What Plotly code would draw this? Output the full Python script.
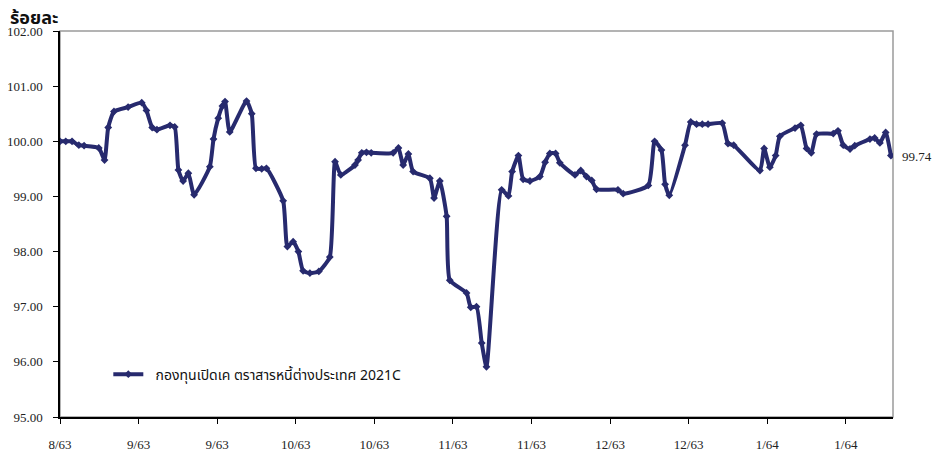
import plotly.graph_objects as go

# Day offset from 20 Aug 2020 and NAV per unit (%)
day = [0.0, 1.1, 2.3, 3.6, 4.6, 7.4, 8.5, 9.2, 10.3, 13.0, 15.6, 16.5, 17.6, 18.5,
       21.0, 21.9, 22.6, 23.5, 24.5, 25.6, 28.6, 29.3, 30.2, 31.0, 31.5, 32.4,
       35.6, 36.6, 37.4, 38.5, 39.4, 42.6, 43.4, 44.5, 45.5, 46.4, 47.7, 49.4,
       51.5, 52.5, 53.6, 56.3, 56.9, 57.6, 58.5, 59.4, 63.6, 64.6, 65.5, 66.5,
       67.4, 70.6, 71.4, 72.5, 73.8, 74.4, 77.6, 78.4, 79.5, 80.5, 81.4, 84.3,
       85.6, 86.3, 87.5, 88.4, 89.7, 91.6, 92.6, 93.5, 94.6, 95.4, 98.3, 99.4,
       100.5, 101.5, 102.4, 106.5, 107.5, 112.3, 113.5, 114.8, 115.5, 116.3,
       119.3, 120.4, 121.5, 122.6, 123.7, 126.4, 127.5, 128.6, 133.6, 134.4,
       135.5, 136.6, 137.4, 140.3, 141.4, 142.5, 143.4, 144.4, 147.6, 148.5,
       149.5, 150.8, 151.7, 154.6, 155.5, 156.5, 157.6, 158.6]
nav = [100.00, 100.00, 100.00, 99.93, 99.92, 99.88, 99.66, 100.25, 100.54, 100.62,
       100.70, 100.56, 100.25, 100.21, 100.29, 100.26, 99.48, 99.28, 99.42, 99.03,
       99.54, 100.04, 100.42, 100.64, 100.72, 100.17, 100.73, 100.50, 99.51, 99.50,
       99.51, 98.92, 98.09, 98.18, 98.00, 97.65, 97.61, 97.64, 97.90, 99.63, 99.39,
       99.57, 99.66, 99.79, 99.80, 99.79, 99.79, 99.88, 99.57, 99.77, 99.45, 99.33,
       98.97, 99.28, 98.64, 97.48, 97.25, 96.99, 97.00, 96.34, 95.91, 99.12, 99.01,
       99.45, 99.74, 99.31, 99.28, 99.36, 99.62, 99.78, 99.78, 99.61, 99.39, 99.47,
       99.36, 99.29, 99.13, 99.12, 99.05, 99.20, 100.00, 99.84, 99.22, 99.02, 99.93,
       100.35, 100.31, 100.31, 100.31, 100.33, 99.96, 99.93, 99.47, 99.87, 99.53,
       99.74, 100.09, 100.24, 100.29, 99.87, 99.79, 100.13, 100.14, 100.19, 99.93,
       99.86, 99.92, 100.04, 100.06, 99.97, 100.16, 99.74]

tick_days = [0, 15, 30, 45, 60, 75, 90, 105, 120, 135, 150]
tick_labels = ["8/63", "9/63", "9/63", "10/63", "10/63", "11/63", "11/63",
               "12/63", "12/63", "1/64", "1/64"]
y_ticks = [95, 96, 97, 98, 99, 100, 101, 102]
series_name = "กองทุนเปิดเค ตราสารหนี้ต่างประเทศ 2021C"

navy = "#272a6e"
serif = "Times New Roman, Liberation Serif, serif"
thai = "Noto Sans Thai, Loma, Tahoma, sans-serif"

fig = go.Figure()
fig.add_trace(go.Scatter(
    x=day, y=nav, mode="lines+markers", name="\u00a0\u00a0" + series_name,
    line=dict(color=navy, width=4, shape="spline", smoothing=0.5),
    marker=dict(symbol="diamond", size=6, color=navy),
))

fig.add_annotation(x=day[-1], y=nav[-1], text=f"{nav[-1]:.2f}", showarrow=False,
                   xanchor="left", xshift=9, yshift=-1,
                   font=dict(family=serif, size=13, color="#222"))
fig.add_annotation(xref="paper", yref="paper", x=-0.063, y=1.032, xanchor="left",
                   yanchor="middle", text="<b>ร้อยละ</b>", showarrow=False,
                   font=dict(family=thai, size=18, color="#111"))

fig.add_shape(type="rect", xref="paper", yref="paper", x0=0, y0=0, x1=1, y1=1,
              line=dict(color="#9a9a9a", width=1.5), layer="below")

fig.update_layout(
    width=937, height=448,
    margin=dict(l=52, r=52, t=23, b=39, autoexpand=False),
    plot_bgcolor="white", paper_bgcolor="white",
    showlegend=True,
    legend=dict(x=0.058, y=0.11, xanchor="left", yanchor="middle",
                bgcolor="rgba(0,0,0,0)",
                font=dict(family=thai, size=14, color="#111")),
    xaxis=dict(range=[0, 159.0], tickvals=tick_days, ticktext=tick_labels,
               automargin=False,
               showgrid=False, zeroline=False, showline=True, linecolor="black",
               linewidth=1.5, ticks="outside", ticklen=5, tickcolor="black",
               ticklabelstandoff=10,
               tickfont=dict(family=serif, size=13, color="#222")),
    yaxis=dict(range=[95, 102], tickvals=y_ticks, tickformat=".2f",
               automargin=False,
               showgrid=False, zeroline=False, showline=True, linecolor="black",
               linewidth=1.5, ticks="outside", ticklen=5, tickcolor="black",
               ticklabelstandoff=8,
               tickfont=dict(family=serif, size=13, color="#222")),
)

fig.write_html("out.html")
